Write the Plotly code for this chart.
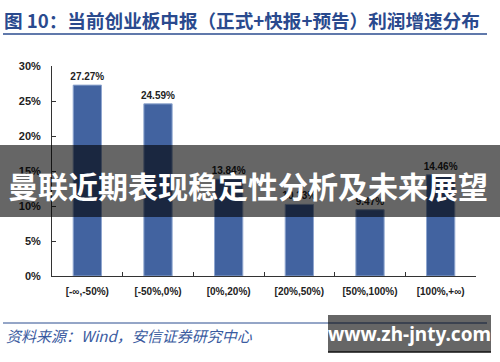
import plotly.graph_objects as go

categories = ["[-∞,-50%)", "[-50%,0%)", "[0%,20%)", "[20%,50%)", "[50%,100%)", "[100%,+∞)"]
values = [27.27, 24.59, 13.84, 10.23, 9.47, 14.46]
value_labels = [f"<b>{v:.2f}%</b>" for v in values]
y_ticks = [0, 5, 10, 15, 20, 25, 30]
y_tick_labels = [f"<b>{t}%</b>" for t in y_ticks]
x_tick_labels = [f"<b>{c}</b>" for c in categories]

title_text = "图 10：当前创业板中报（正式+快报+预告）利润增速分布"
source_text = "资料来源：Wind，安信证券研究中心"
banner_text = "曼联近期表现稳定性分析及未来展望"
site_text = "www.zh-jnty.com"

fig = go.Figure()
fig.add_trace(go.Bar(
    x=categories, y=values, width=0.4,
    marker=dict(color="#4263A0", line=dict(color="#8FA6CF", width=1)),
    text=value_labels, textposition="outside", constraintext="none",
    textfont=dict(family="Liberation Sans, Arial", size=10, color="#222222"),
    cliponaxis=False,
))

fig.update_layout(
    width=500, height=362,
    margin=dict(l=52, r=24, t=66, b=86),
    paper_bgcolor="white", plot_bgcolor="white",
    showlegend=False,
    font=dict(family="Liberation Sans, Arial", color="#222222"),
)
fig.update_xaxes(
    type="category", showline=True, linecolor="#333333", linewidth=1,
    ticks="inside", tickson="boundaries", ticklen=4, tickcolor="#333333",
    tickvals=categories, ticktext=x_tick_labels, ticklabelstandoff=6,
    showgrid=False, tickfont=dict(size=10, color="#222222", family="Liberation Sans, Arial"),
)
fig.update_yaxes(
    range=[0, 30], tickvals=y_ticks, ticktext=y_tick_labels,
    showline=True, linecolor="#333333", linewidth=1,
    ticks="inside", ticklen=4, tickcolor="#333333", ticklabelstandoff=8,
    showgrid=False, zeroline=False,
    tickfont=dict(size=11, color="#222222", family="Liberation Sans, Arial"),
)

# header title and rules
fig.add_annotation(xref="paper", yref="paper", x=-50/424, y=1 + (66-20)/210, xanchor="left", yanchor="middle",
                   text=f"<b>{title_text}</b>", showarrow=False,
                   font=dict(family="Noto Sans CJK SC", size=18.6, color="#2A4A8E"))
fig.add_shape(type="line", xref="paper", yref="paper", x0=-49/424, x1=435/424,
              y0=1 + (66-34)/210, y1=1 + (66-34)/210, line=dict(color="#2B4C8F", width=1.5))
fig.add_shape(type="line", xref="paper", yref="paper", x0=-49/424, x1=435/424,
              y0=-(323-276)/210, y1=-(323-276)/210, line=dict(color="#2B4C8F", width=1))
fig.add_annotation(xref="paper", yref="paper", x=-48/424, y=-(335-276)/210, xanchor="left", yanchor="middle",
                   text=f"<i>{source_text}</i>", showarrow=False,
                   font=dict(family="Noto Sans CJK SC", size=15, color="#3A5BA0"))

# banner overlay
fig.add_shape(type="rect", xref="paper", yref="paper", x0=-52/424, x1=448/424,
              y0=1 - (217-66)/210, y1=1 - (145-66)/210, line=dict(width=0),
              fillcolor="rgba(0,0,0,0.6)", layer="above")
fig.add_annotation(xref="paper", yref="paper", x=(248-52)/424, y=1 - (185-66)/210, xanchor="center", yanchor="middle",
                   text=f"<b>{banner_text}</b>", showarrow=False,
                   font=dict(family="Noto Sans CJK SC", size=30, color="white"))

# site box
fig.add_shape(type="rect", xref="paper", yref="paper", x0=(328-52)/424, x1=(491-52)/424,
              y0=-(352-276)/210, y1=-(315-276)/210, line=dict(width=0),
              fillcolor="rgba(0,0,0,0.6)", layer="above")
fig.add_shape(type="line", xref="paper", yref="paper", x0=(328-52)/424, x1=(491-52)/424,
              y0=-(352-276)/210, y1=-(352-276)/210, line=dict(color="#111111", width=1.5))
fig.add_annotation(xref="paper", yref="paper", x=(409-52)/424, y=-(334-276)/210, xanchor="center", yanchor="middle",
                   text=f"<b>{site_text}</b>", showarrow=False,
                   font=dict(family="Noto Sans, Open Sans", size=19, color="white"))

fig.write_html("out.html", config={"displayModeBar": False},
               post_script="document.body.style.margin='0';")
